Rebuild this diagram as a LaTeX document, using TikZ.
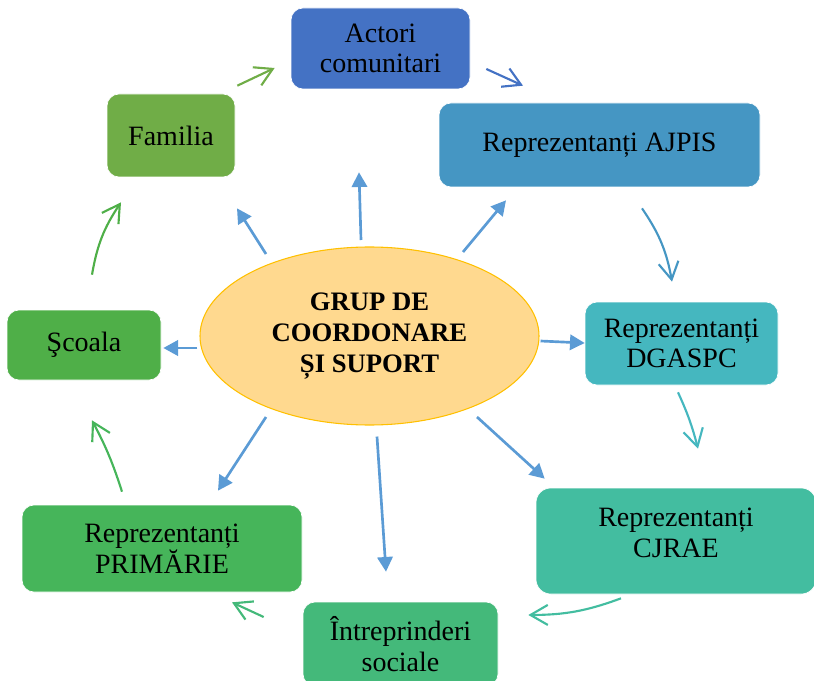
\documentclass[tikz,border=0pt]{standalone}
\usepackage{fontspec}
\setmainfont{Liberation Serif}
\usetikzlibrary{shapes.geometric,arrows.meta,calc}
\definecolor{cAct}{HTML}{4472C4}
\definecolor{cFam}{HTML}{70AD47}
\definecolor{cAjp}{HTML}{4596C3}
\definecolor{cDga}{HTML}{45B7BF}
\definecolor{cCjr}{HTML}{43BDA0}
\definecolor{cInt}{HTML}{44B97A}
\definecolor{cPri}{HTML}{46B55A}
\definecolor{cSco}{HTML}{4FAF48}
\definecolor{cEll}{HTML}{FFD98F}
\definecolor{cEllB}{HTML}{FFC000}
\definecolor{cSpoke}{HTML}{5B9BD5}
\begin{document}
\begin{tikzpicture}[x=0.75pt,y=-0.75pt,
  boxfont/.style={font=\fontsize{21}{23}\selectfont},
  box/.style={rectangle, rounded corners=9pt, inner sep=0pt, align=center, boxfont, draw=white, line width=0.5pt, text=black},
  spoke/.style={draw=cSpoke, line width=2pt, -{Triangle[length=11pt,width=11.5pt]}},
  cyc/.style={line width=1.6pt, -{Straight Barb[length=13pt,width=15pt]}},
]
\useasboundingbox (0,0) rectangle (814,681);

% central ellipse
\node[ellipse, fill=cEll, draw=cEllB, line width=0.8pt,
      minimum width=339*0.75pt, minimum height=178*0.75pt, inner sep=0pt,
      align=center, font=\bfseries\fontsize{20}{23}\selectfont] (g) at (369.5,336)
      {GRUP DE\\COORDONARE\\ȘI SUPORT};

% outer boxes
\node[box, fill=cAct, minimum width=179*0.75pt, minimum height=81*0.75pt] (act) at (380.5,48.5) {Actori\\comunitari};
\node[box, fill=cFam, minimum width=128*0.75pt, minimum height=83*0.75pt] (fam) at (171,135.5) {Familia};
\node[box, fill=cAjp, minimum width=321*0.75pt, minimum height=84*0.75pt] (ajp) at (599.5,145) {Reprezentanți AJPIS};
\node[box, fill=cDga, minimum width=193*0.75pt, minimum height=83*0.75pt] (dga) at (681.5,343.5) {Reprezentanți\\DGASPC};
\node[box, fill=cCjr, rounded corners=11pt, minimum width=280*0.75pt, minimum height=106*0.75pt,
      label={[boxfont, align=center, text=black, yshift=6pt]center:{Reprezentanți\\CJRAE}}] (cjr) at (676,541) {};
\node[box, fill=cInt, minimum width=195*0.75pt, minimum height=84*0.75pt] (int) at (400.5,644) {Întreprinderi\\sociale};
\node[box, fill=cPri, minimum width=280*0.75pt, minimum height=87*0.75pt] (pri) at (162,548.5) {Reprezentanți\\PRIMĂRIE};
\node[box, fill=cSco, minimum width=154*0.75pt, minimum height=70*0.75pt] (sco) at (84,345) {Şcoala};

% spokes from the centre
\draw[spoke] ($(g.center)+(-103.5,-82)$) -- ($(fam.south)+(66,31)$);
\draw[spoke] ($(g.center)+(-8.5,-96)$) -- ($(act.south)+(-21.5,83)$);
\draw[spoke] ($(g.center)+(93.5,-84)$) -- ($(ajp.south)+(-93.5,13)$);
\draw[spoke] ($(g.east)+(1,5)$) -- ($(dga.west)+(0,-0.5)$);
\draw[spoke] ($(g.west)+(-2,12)$) -- ($(sco.east)+(2,3)$);
\draw[spoke] ($(g.center)+(-103.5,81)$) -- ($(pri.north)+(56,-14)$);
\draw[spoke] ($(g.south)+(7.5,11)$) -- ($(int.north)+(-14.5,-30)$);
\draw[spoke] ($(g.center)+(107.5,81)$) -- ($(cjr.north west)+(9,-9)$);

% cycle
\draw[cyc, draw=cFam] ($(fam.north east)+(2,-8)$) -- ($(act.west)+(-16,19.5)$);
\draw[cyc, draw=cAct] ($(act.east)+(16,20.5)$) -- ($(ajp.north)+(-76.5,-17)$);
\draw[cyc, draw=cAjp] ($(ajp.south)+(42.5,21)$) to[bend left=12] ($(dga.north)+(-9.5,-20)$);
\draw[cyc, draw=cDga] ($(dga.south)+(-3.5,7)$) to[bend left=5] ($(cjr.north)+(22,-39)$);
\draw[cyc, draw=cCjr] ($(cjr.south)+(-55,4)$) to[bend left=10] ($(int.east)+(30,-29)$);
\draw[cyc, draw=cInt] ($(int.west)+(-39,-27)$) -- ($(pri.south)+(70,10)$);
\draw[cyc, draw=cPri] ($(pri.north)+(-40,-13)$) to[bend right=5] ($(sco.south)+(8,40)$);
\draw[cyc, draw=cSco] ($(sco.north)+(8,-35)$) to[bend left=12] ($(fam.south)+(-50,25)$);
\end{tikzpicture}
\end{document}
